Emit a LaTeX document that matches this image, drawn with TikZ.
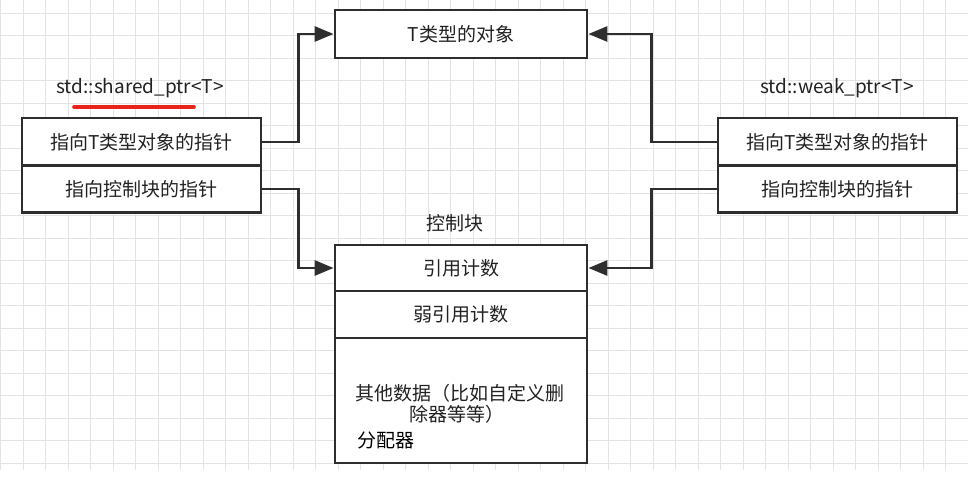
\documentclass[tikz,border=0pt]{standalone}
\usepackage{fontspec}
\setmainfont{Noto Sans CJK SC}
\usetikzlibrary{arrows.meta}
\definecolor{edge}{HTML}{2E2E2E}
\definecolor{txt}{HTML}{222222}
\definecolor{gridc}{HTML}{E3E3E3}
\definecolor{redline}{HTML}{E8241C}
\tikzset{
  cell/.style={draw=edge, line width=2.8pt, fill=white, inner sep=0pt, text=txt, font=\fontsize{19}{22}\selectfont},
  lbl/.style={inner sep=0pt, text=txt, font=\fontsize{19}{22}\selectfont},
  conn/.style={draw=edge, line width=2.8pt, -{Triangle[length=19pt,width=15pt]}},
}
\begin{document}
\begin{tikzpicture}[x=1pt,y=-1pt]
\useasboundingbox (0,0) rectangle (968,478);
\fill[white] (0,0) rectangle (968,478);
% grid
\foreach \k in {0,...,43} {\draw[gridc, line width=1pt] (0.8+22.5*\k,0) -- (0.8+22.5*\k,470);}
\foreach \k in {0,...,20} {\draw[gridc, line width=1pt] (0,13.3+22.5*\k) -- (968,13.3+22.5*\k);}
% top object
\node[cell, minimum width=252pt, minimum height=48pt] (obj) at (461,34) {T类型的对象};
% shared_ptr
\node[lbl] (sname) at (140,88) {std::shared\_ptr<T>};
\draw[redline, line width=3.6pt, line cap=round] (74,107) -- (194,107);
\node[cell, minimum width=239pt, minimum height=48pt] (l1) at (141.5,142) {指向T类型对象的指针};
\node[cell, minimum width=239pt, minimum height=47pt] (l2) at (141.5,189) {指向控制块的指针};
% weak_ptr
\node[lbl] (wname) at (837,88) {std::weak\_ptr<T>};
\node[cell, minimum width=239pt, minimum height=48pt] (r1) at (837.5,142) {指向T类型对象的指针};
\node[cell, minimum width=239pt, minimum height=47pt] (r2) at (837.5,189) {指向控制块的指针};
% control block
\node[lbl] (cbname) at (455,223) {控制块};
\node[cell, minimum width=252pt, minimum height=46pt] (c1) at (461,268) {引用计数};
\node[cell, minimum width=252pt, minimum height=47pt] (c2) at (461,314.5) {弱引用计数};
\node[cell, minimum width=252pt, minimum height=125pt] (c3) at (461,400.5) {};
\node[lbl] (t1) at (460,393) {其他数据（比如自定义删};
\node[lbl] (t2) at (457,414) {除器等等）};
\node[lbl, anchor=west, text=black] (t3) at (357,440) {分配器};
% connectors
\draw[conn] (l1.east) -- ++(36,0) |- (obj.west);
\draw[conn] (r1.west) -- ++(-65,0) |- (obj.east);
\draw[conn] (l2.east) -- ++(36,0) |- (c1.west);
\draw[conn] (r2.west) -- ++(-65,0) |- (c1.east);
\end{tikzpicture}
\end{document}
